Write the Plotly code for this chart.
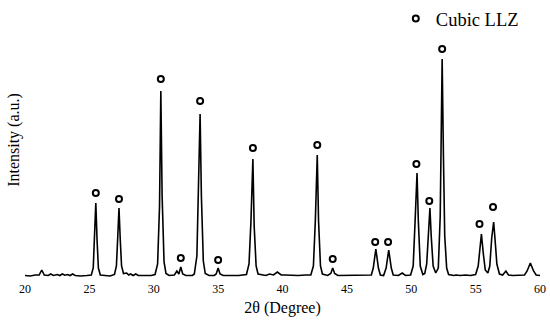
import plotly.graph_objects as go

# XRD profile (2theta in degrees, intensity in arbitrary units)
two_theta = [
    20.0, 20.4, 20.8, 21.1, 21.3, 21.5, 21.8, 22.0, 22.2, 22.5, 22.7, 22.9, 23.1, 23.3, 23.5, 23.7, 23.9,
    24.3, 24.8, 25.15, 25.3, 25.4, 25.5, 25.6, 25.7, 25.85, 26.2, 26.6, 26.95, 27.1, 27.2, 27.3, 27.4,
    27.5, 27.65, 27.9, 28.05, 28.2, 28.4, 28.6, 28.8, 29.3, 29.8, 30.1, 30.3, 30.45, 30.55, 30.65, 30.8,
    30.95, 31.2, 31.6, 31.8, 31.95, 32.1, 32.25, 32.5, 33.0, 33.15, 33.35, 33.5, 33.6, 33.7, 33.85, 34.0,
    34.3, 34.7, 34.85, 35.0, 35.15, 35.4, 36.0, 36.6, 37.2, 37.4, 37.55, 37.7, 37.8, 37.95, 38.1, 38.5,
    38.7, 39.0, 39.3, 39.6, 39.9, 40.2, 40.6, 41.2, 41.8, 42.2, 42.4, 42.55, 42.7, 42.8, 42.95, 43.1,
    43.5, 43.75, 43.9, 44.05, 44.3, 45.0, 45.5, 46.0, 46.5, 46.9, 47.05, 47.25, 47.45, 47.6, 47.85, 48.05,
    48.25, 48.45, 48.6, 49.0, 49.3, 49.55, 49.95, 50.15, 50.3, 50.45, 50.55, 50.7, 50.9, 51.05, 51.2,
    51.35, 51.45, 51.55, 51.7, 51.9, 52.1, 52.25, 52.4, 52.5, 52.6, 52.75, 52.9, 53.3, 53.5, 53.8, 54.2,
    54.6, 55.0, 55.2, 55.35, 55.45, 55.6, 55.75, 55.95, 56.1, 56.25, 56.4, 56.5, 56.65, 56.85, 57.1,
    57.35, 57.55, 57.9, 58.3, 58.8, 59.0, 59.25, 59.5, 59.7, 60.0,
]
intensity = [
    0.5, 0.0, 1.0, 1.0, 6.0, 1.0, 0.5, 2.0, 0.5, 1.5, 0.5, 2.0, 0.8, 1.5, 0.5, 2.0, 0.5,
    0.0, 0.5, 1.0, 8, 35, 73, 35, 8, 1.0, 0.5, 0.0, 1.5, 10, 38, 68, 36,
    10, 2.5, 3.0, 1.0, 2.0, 0.5, 2.0, 0.5, 0.5, 0.5, 1.5, 12, 70, 185, 80, 14,
    2.5, 0.5, 1.0, 5.0, 2.0, 9, 2.0, 0.5, 0.5, 2.0, 20, 90, 162, 80, 15, 2.5,
    0.5, 0.5, 2.0, 8, 2.0, 0.5, 0.5, 0.5, 1.5, 12, 55, 117, 50, 10, 2.0, 1.5,
    0.5, 2.0, 1.0, 4.0, 1.0, 1.0, 0.5, 0.5, 1.0, 1.0, 10, 55, 121, 55, 10, 2.0,
    0.5, 2.5, 8, 2.5, 0.5, 0.5, 1.0, 0.5, 0.5, 1.0, 8, 27, 8, 1.0, 0.5, 8,
    26, 8, 1.0, 0.5, 3.0, 0.5, 1.0, 10, 55, 103, 55, 10, 1.5, 2.5, 12,
    45, 68, 40, 10, 3.0, 8, 60, 217, 120, 40, 8, 1.5, 0.5, 1.0, 0.5, 1.0,
    0.5, 1.5, 10, 32, 42, 22, 6, 3.0, 10, 38, 54, 38, 12, 2.0, 1.0,
    5.0, 1.0, 0.5, 0.5, 1.0, 5, 13, 5, 1.0, 0.5,
]

# Cubic LLZ reflection markers
llz_theta = [25.5, 27.3, 30.55, 32.1, 33.6, 35.0, 37.7, 42.7, 43.9, 47.2, 48.2, 50.4, 51.4, 52.4, 55.3, 56.35]
llz_marker = [83, 77, 197, 18, 175, 16, 128, 131, 17, 34, 34, 112, 75, 227, 52, 69]

x_ticks = [20, 25, 30, 35, 40, 45, 50, 55, 60]

FONT = "Times New Roman, Liberation Serif, serif"

fig = go.Figure()
fig.add_trace(go.Scatter(
    x=two_theta, y=intensity, mode="lines",
    line=dict(color="black", width=1.6), showlegend=False, hoverinfo="skip",
))
fig.add_trace(go.Scatter(
    x=llz_theta, y=llz_marker, mode="markers", name="Cubic LLZ",
    marker=dict(symbol="circle-open", size=6, color="black", line=dict(width=2, color="black")),
))

fig.update_layout(
    width=550, height=321,
    margin=dict(l=25, r=10, t=0, b=41),
    paper_bgcolor="white", plot_bgcolor="white",
    font=dict(family=FONT, color="black"),
    showlegend=True,
    legend=dict(x=0.72, y=1.0, xanchor="left", yanchor="top",
                font=dict(size=18.5, family=FONT), bgcolor="rgba(0,0,0,0)",
                borderwidth=0, itemwidth=30),
    xaxis=dict(
        range=[20, 60], tickvals=x_ticks, ticktext=[str(t) for t in x_ticks],
        showgrid=False, zeroline=False, showline=False, ticks="",
        tickfont=dict(size=12, family=FONT), automargin=False,
        title=dict(text="2θ (Degree)", font=dict(size=16, family=FONT), standoff=6),
    ),
    yaxis=dict(
        range=[-4, 276], showticklabels=False, showgrid=False, zeroline=False,
        showline=False, ticks="", automargin=False,
        title=dict(text="Intensity (a.u.)", font=dict(size=16, family=FONT), standoff=0),
    ),
)

fig.write_html("out.html", config={"displayModeBar": False},
               post_script="document.body.style.margin='0';document.body.style.overflow='hidden';")
